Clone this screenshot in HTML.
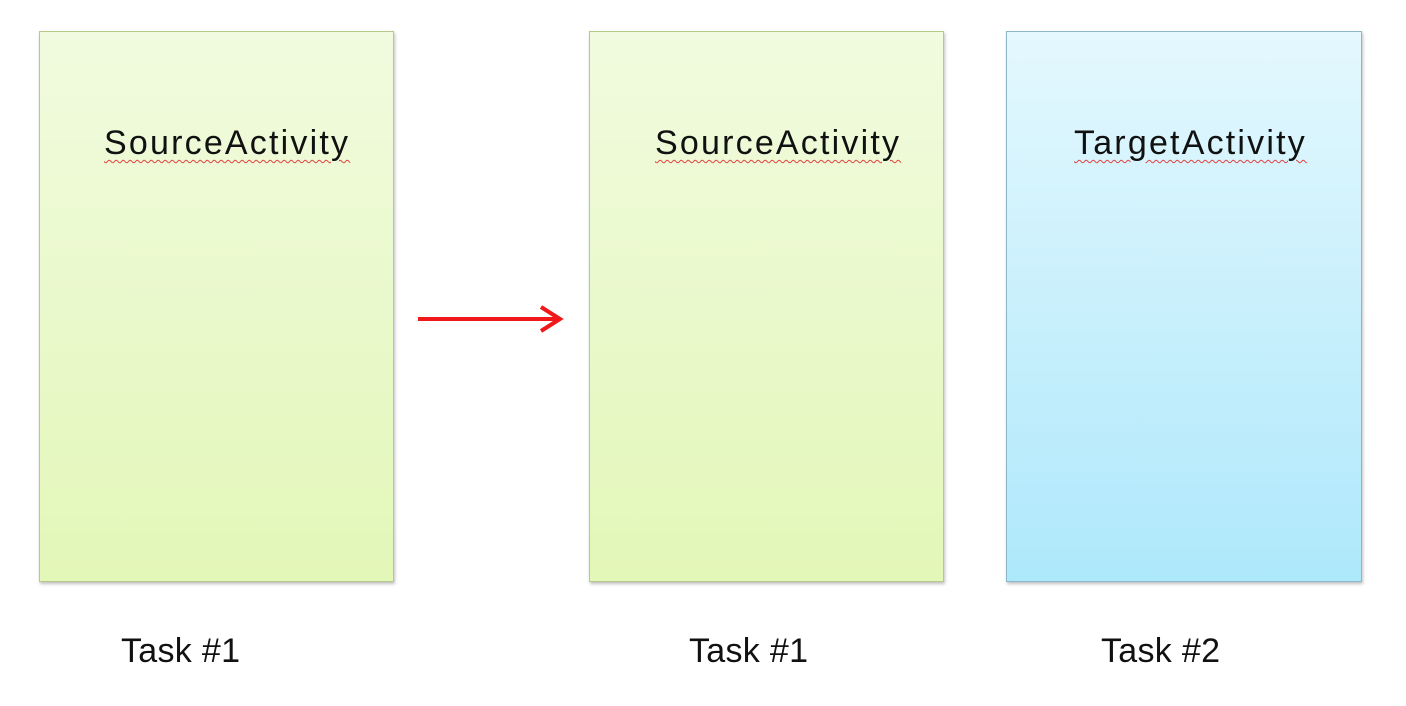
<!DOCTYPE html>
<html><head><style>
body{margin:0;width:1406px;height:706px;background:#fff;position:relative;overflow:hidden;font-family:"Liberation Sans",sans-serif;}
.b{position:absolute;top:31px;height:551px;box-sizing:border-box;box-shadow:1px 2px 3px rgba(0,0,0,0.25);}
.g{background:linear-gradient(#f1fbdf,#e3f7b8);border:1.5px solid #b5c98a;}
.c{background:linear-gradient(#e4f8fe,#aee8fb);border:1.5px solid #8ab8c9;}
.t{position:absolute;top:124px;font-size:34px;letter-spacing:2.2px;color:#111;text-decoration:underline wavy #e04040;text-decoration-thickness:1px;text-underline-offset:5px;}
.k{position:absolute;top:632px;font-size:34px;letter-spacing:0.3px;color:#111;}
</style></head><body>
<div class="b g" style="left:39px;width:355px"></div>
<div class="b g" style="left:589px;width:355px"></div>
<div class="b c" style="left:1006px;width:356px"></div>
<div class="t" style="left:104px">SourceActivity</div>
<div class="t" style="left:655px">SourceActivity</div>
<div class="t" style="left:1074px">TargetActivity</div>
<div class="k" style="left:121px">Task #1</div>
<div class="k" style="left:689px">Task #1</div>
<div class="k" style="left:1101px">Task #2</div>
<svg style="position:absolute;left:0;top:0" width="1406" height="706">
<line x1="418" y1="319" x2="559" y2="319" stroke="#f01818" stroke-width="4"/>
<polyline points="541,307 560,319 541,331" fill="none" stroke="#f01818" stroke-width="4"/>
</svg>
</body></html>
